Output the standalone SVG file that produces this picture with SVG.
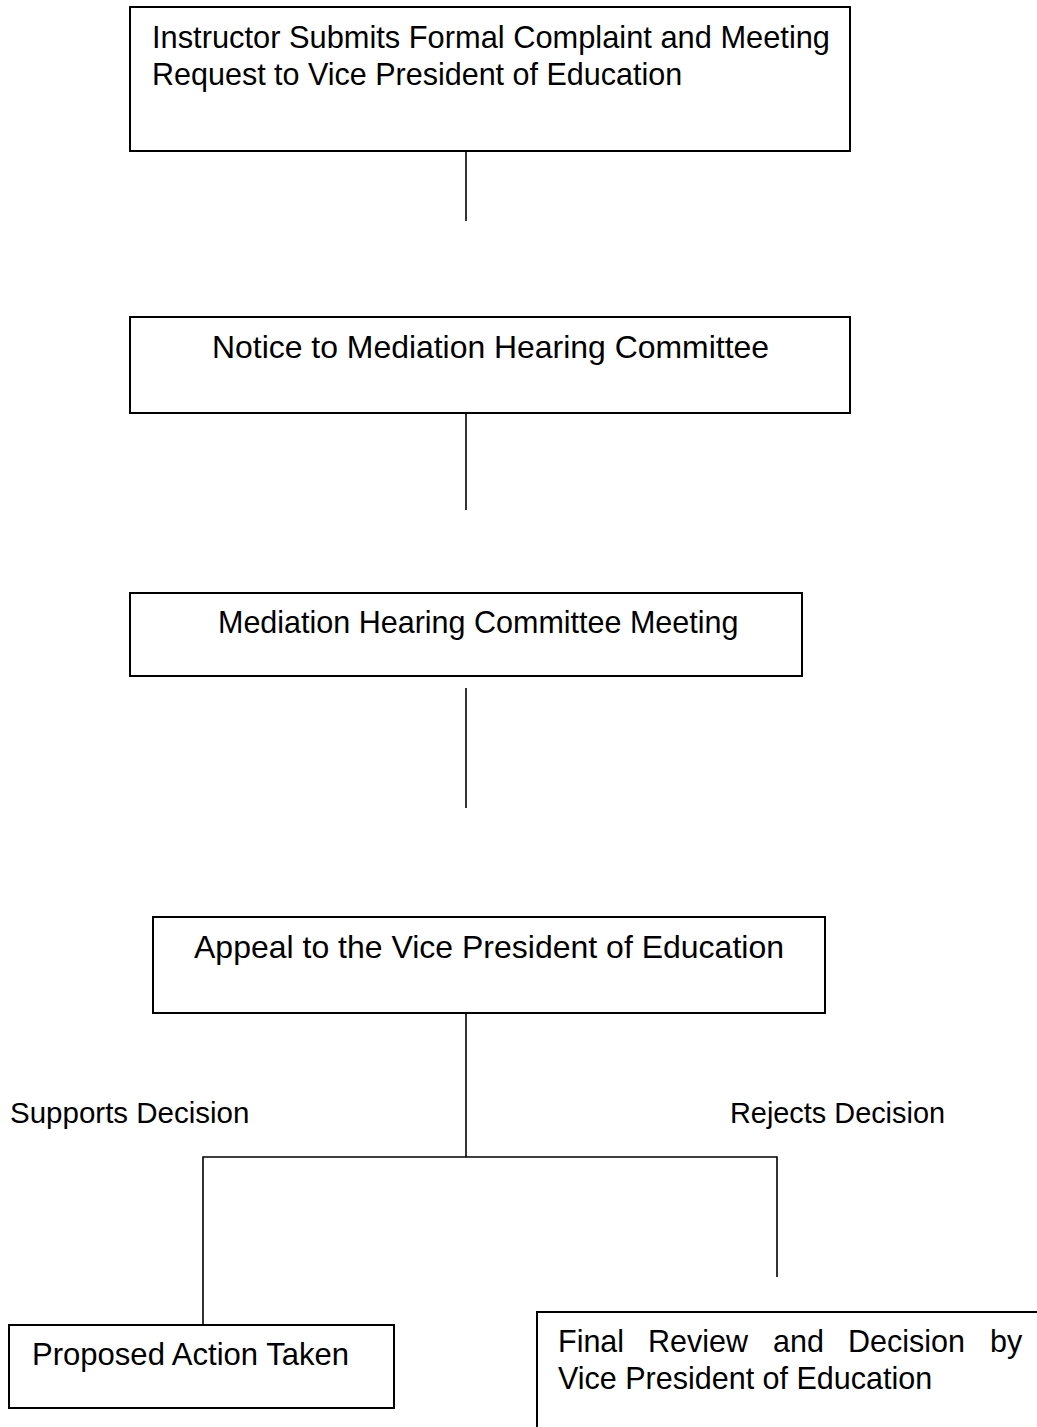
<svg xmlns="http://www.w3.org/2000/svg" width="1037" height="1427" viewBox="0 0 1037 1427">
<style>
.box{fill:none;stroke:#000;stroke-width:2}
.ln{fill:none;stroke:#000;stroke-width:1.6}
text{font-family:"Liberation Sans",Arial,sans-serif;font-size:30.5px;fill:#000}
.lbl{font-size:29.5px}
</style>
<rect width="1037" height="1427" fill="#fff"/>
<g id="connectors">
<line class="ln" x1="466" y1="151" x2="466" y2="221"/>
<line class="ln" x1="466" y1="413" x2="466" y2="510"/>
<line class="ln" x1="466" y1="688" x2="466" y2="808"/>
<line class="ln" x1="466" y1="1013" x2="466" y2="1157"/>
<polyline class="ln" points="203,1325 203,1157 777,1157 777,1277"/>
</g>
<g id="labels">
<text class="lbl" x="10" y="1123">Supports Decision</text>
<text class="lbl" x="730" y="1123" textLength="215" lengthAdjust="spacingAndGlyphs">Rejects Decision</text>
</g>
<g id="n1">
<rect class="box" x="130" y="7" width="720" height="144"/>
<text x="152" y="48" textLength="678" lengthAdjust="spacingAndGlyphs">Instructor Submits Formal Complaint and Meeting</text>
<text x="152" y="85">Request to Vice President of Education</text>
</g>
<g id="n2">
<rect class="box" x="130" y="317" width="720" height="96"/>
<text x="212" y="358" textLength="557" lengthAdjust="spacingAndGlyphs">Notice to Mediation Hearing Committee</text>
</g>
<g id="n3">
<rect class="box" x="130" y="593" width="672" height="83"/>
<text x="218" y="633">Mediation Hearing Committee Meeting</text>
</g>
<g id="n4">
<rect class="box" x="153" y="917" width="672" height="96"/>
<text x="194" y="958" textLength="590" lengthAdjust="spacingAndGlyphs">Appeal to the Vice President of Education</text>
</g>
<g id="n5">
<rect class="box" x="9" y="1325" width="385" height="83"/>
<text x="32" y="1365" textLength="317" lengthAdjust="spacingAndGlyphs">Proposed Action Taken</text>
</g>
<g id="n6">
<path class="box" d="M537,1440 V1312 H1045"/>
<text y="1352"><tspan x="558">Final</tspan><tspan x="648">Review</tspan><tspan x="773">and</tspan><tspan x="848">Decision</tspan><tspan x="990">by</tspan></text>
<text x="558" y="1389">Vice President of Education</text>
</g>
</svg>
